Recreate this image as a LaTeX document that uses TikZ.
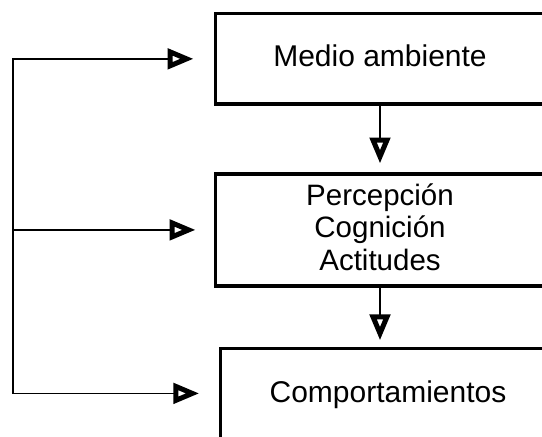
\documentclass[tikz,border=0pt]{standalone}
\usepackage{fontspec}
\setmainfont{Liberation Sans}
\usetikzlibrary{arrows.meta}
\begin{document}
\begin{tikzpicture}[x=1pt,y=-1pt,
  box/.style={draw, line width=3.5pt, rectangle, align=center, inner sep=0pt,
    font=\fontsize{30}{32.5}\selectfont},
  conn/.style={line width=1.8pt, -{Triangle[open, length=26pt, width=20pt, line width'=5pt]}},
  rail/.style={line width=1.8pt, line cap=rect}]
\useasboundingbox (0,0) rectangle (542,437);
\fill[white] (0,0) rectangle (542,437);
\begin{scope}
\clip (0,0) rectangle (542,437);
\node[box, minimum width=329.4pt, minimum height=90.3pt, text depth=6pt] (b1) at (380,58.85) {Medio ambiente};
\node[box, minimum width=329.4pt, minimum height=112.3pt, text depth=6pt, font=\fontsize{29.5}{32.5}\selectfont] (b2) at (380,229.9) {Percepción\\Cognición\\Actitudes};
\node[box, minimum width=335pt, minimum height=90pt, text depth=3pt] (b3) at (388,393.4) {Comportamientos};
\coordinate (r) at (13,0);
\draw[conn, shorten >=8.5pt] (b1.south) -- (b2.north);
\draw[conn, shorten >=6.3pt] (b2.south) -- (b2.south |- b3.north);
\draw[rail] (b1.west -| r) -- (b3.west -| r);
\draw[conn, shorten >=20pt] (b1.west -| r) -- (b1.west);
\draw[conn, shorten >=18pt] (b2.west -| r) -- (b2.west);
\draw[conn, shorten >=19.5pt] (b3.west -| r) -- (b3.west);
\end{scope}
\end{tikzpicture}
\end{document}
